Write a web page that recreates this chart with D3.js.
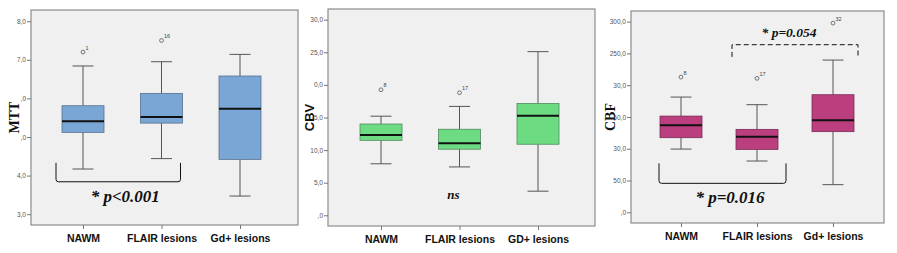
<!DOCTYPE html>
<html><head><meta charset="utf-8">
<script src="https://cdn.jsdelivr.net/npm/d3@7"></script>
<style>body{margin:0;background:#fff}svg{display:block}</style>
</head><body>
<script>
// ---- data ----
const mttCategories = ["NAWM", "FLAIR lesions", "Gd+ lesions"];
const cbvCategories = ["NAWM", "FLAIR lesions", "GD+ lesions"];
const cbfCategories = ["NAWM", "FLAIR lesions", "Gd+ lesions"];
// [low whisker, Q1, median, Q3, high whisker]
const mttStats = [[4.17, 5.12, 5.41, 5.81, 6.84], [4.44, 5.36, 5.52, 6.13, 6.95], [3.47, 4.42, 5.73, 6.58, 7.14]];
const cbvStats = [[7.9, 11.5, 12.3, 14.0, 15.2], [7.42, 10.14, 11.06, 13.2, 16.7], [3.7, 10.9, 15.25, 17.14, 25.1]];
const cbfStats = [[99.5, 117.4, 136.8, 151.4, 181.3], [80.7, 99, 119, 130.5, 169.3], [43.5, 126.9, 144.7, 185, 239.5]];
const mttOutliers = [{c: 0, v: 7.20, id: "1"}, {c: 1, v: 7.50, id: "16"}];
const cbvOutliers = [{c: 0, v: 19.25, id: "8"}, {c: 1, v: 18.8, id: "17"}];
const cbfOutliers = [{c: 0, v: 212.7, id: "8"}, {c: 1, v: 210.7, id: "17"}, {c: 2, v: 297.6, id: "32"}];
const mttTicks = [3, 4, 5, 6, 7, 8];
const mttTickLabels = ["3,0", "4,0", ",0", ",0", "7,0", "8,0"];
const cbvTicks = [0, 5, 10, 15, 20, 25, 30];
const cbvTickLabels = [",0", "5,0", "10,0", "5,0", "0,0", "25,0", "30,0"];
const cbfTicks = [0, 50, 100, 150, 200, 250, 300];
const cbfTickLabels = [",0", "50,0", "30,0", "50,0", "30,0", "250,0", "300,0"];

const W = 897, H = 253;
const svg = d3.select("body").append("svg").attr("width", W).attr("height", H);

const panels = [
  {title: "MTT", titleFont: "Liberation Serif, Times New Roman, serif", titleSize: 14, titleX: 14,
   cats: mttCategories, stats: mttStats, outs: mttOutliers, ticks: mttTicks, tickLabels: mttTickLabels,
   fill: "#7aa6d5", stroke: "#56708c",
   frame: {x0: 31, x1: 298, y0: 10, y1: 225}, xr: [83, 240], domain: [2.72, 8.29]},
  {title: "CBV", titleFont: "Liberation Sans, Arial, sans-serif", titleSize: 13, titleX: 309,
   cats: cbvCategories, stats: cbvStats, outs: cbvOutliers, ticks: cbvTicks, tickLabels: cbvTickLabels,
   fill: "#6ddb82", stroke: "#4f8a5c",
   frame: {x0: 328, x1: 595, y0: 9, y1: 226}, xr: [381, 538], domain: [-1.64, 31.64]},
  {title: "CBF", titleFont: "Liberation Serif, Times New Roman, serif", titleSize: 14, titleX: 610,
   cats: cbfCategories, stats: cbfStats, outs: cbfOutliers, ticks: cbfTicks, tickLabels: cbfTickLabels,
   fill: "#bb3f7e", stroke: "#7a2a55",
   frame: {x0: 631, x1: 884, y0: 11, y1: 223}, xr: [681, 833], domain: [-16.8, 316.7]}
];

const boxW = 42, capW = 21;

panels.forEach((p, pi) => {
  const g = svg.append("g");
  const f = p.frame;
  const y = d3.scaleLinear().domain(p.domain).range([f.y1, f.y0]);
  const x = d3.scalePoint().domain(p.cats).range(p.xr);
  p.x = x; p.y = y;

  g.append("rect").attr("x", f.x0).attr("y", f.y0).attr("width", f.x1 - f.x0).attr("height", f.y1 - f.y0)
    .attr("fill", "#f0f0f0").attr("stroke", "#8c8c8c").attr("stroke-width", 1.2);

  // y axis
  const ax = d3.axisLeft(y).tickValues(p.ticks).tickSize(4).tickPadding(1)
    .tickFormat((d, i) => p.tickLabels[i]);
  const axg = g.append("g").attr("transform", `translate(${f.x0},0)`).call(ax);
  axg.select(".domain").remove();
  axg.selectAll("line").attr("stroke", "#777");
  axg.selectAll("text").attr("font-family", "Liberation Sans, Arial, sans-serif").attr("font-size", 6.5).attr("fill", "#555");

  // x axis ticks
  const xax = d3.axisBottom(x).tickSize(4).tickPadding(6);
  const xg = g.append("g").attr("transform", `translate(0,${f.y1})`).call(xax);
  xg.select(".domain").remove();
  xg.selectAll("line").attr("stroke", "#777");
  xg.selectAll("text").attr("font-family", "Liberation Sans, Arial, sans-serif").attr("font-size", 10.5)
    .attr("font-weight", "bold").attr("fill", "#111");

  // y title
  g.append("text").attr("transform", `translate(${p.titleX},${(f.y0 + f.y1) / 2}) rotate(-90)`)
    .attr("text-anchor", "middle").attr("dominant-baseline", "central")
    .attr("font-family", p.titleFont).attr("font-size", p.titleSize).attr("font-weight", "bold").attr("fill", "#111")
    .text(p.title);

  // boxes
  p.stats.forEach((s, i) => {
    const cx = x(p.cats[i]);
    const bg = g.append("g");
    bg.append("line").attr("x1", cx).attr("x2", cx).attr("y1", y(s[0])).attr("y2", y(s[1])).attr("stroke", "#555").attr("stroke-width", 1);
    bg.append("line").attr("x1", cx).attr("x2", cx).attr("y1", y(s[3])).attr("y2", y(s[4])).attr("stroke", "#555").attr("stroke-width", 1);
    bg.append("line").attr("x1", cx - capW / 2).attr("x2", cx + capW / 2).attr("y1", y(s[0])).attr("y2", y(s[0])).attr("stroke", "#555").attr("stroke-width", 1);
    bg.append("line").attr("x1", cx - capW / 2).attr("x2", cx + capW / 2).attr("y1", y(s[4])).attr("y2", y(s[4])).attr("stroke", "#555").attr("stroke-width", 1);
    bg.append("rect").attr("x", cx - boxW / 2).attr("y", y(s[3])).attr("width", boxW).attr("height", y(s[1]) - y(s[3]))
      .attr("fill", p.fill).attr("stroke", p.stroke).attr("stroke-width", 0.8);
    bg.append("line").attr("x1", cx - boxW / 2).attr("x2", cx + boxW / 2).attr("y1", y(s[2])).attr("y2", y(s[2])).attr("stroke", "#111").attr("stroke-width", 2);
  });

  // outliers
  p.outs.forEach(o => {
    const cx = x(p.cats[o.c]);
    g.append("circle").attr("cx", cx).attr("cy", y(o.v)).attr("r", 1.9).attr("fill", "none").attr("stroke", "#555").attr("stroke-width", 0.8);
    g.append("text").attr("x", cx + 2.5).attr("y", y(o.v) - 2.5).attr("font-family", "Liberation Sans, Arial, sans-serif")
      .attr("font-size", 5.5).attr("fill", "#444").text(o.id);
  });
});

// ---- annotations ----
const annFont = "Liberation Serif, Times New Roman, serif";
function bracketUp(g, xl, xr, yt, yb, dash) {
  const r = 2.5;
  const path = `M${xl},${yt} L${xl},${yb - r} Q${xl},${yb} ${xl + r},${yb} L${xr - r},${yb} Q${xr},${yb} ${xr},${yb - r} L${xr},${yt}`;
  g.append("path").attr("d", path).attr("fill", "none").attr("stroke", "#111").attr("stroke-width", 1)
    .attr("stroke-dasharray", dash || null);
}
function bracketDown(g, xl, xr, yt, yb, dash) {
  const path = `M${xl},${yb} L${xl},${yt} L${xr},${yt} L${xr},${yb}`;
  g.append("path").attr("d", path).attr("fill", "none").attr("stroke", "#111").attr("stroke-width", 1)
    .attr("stroke-dasharray", dash || null);
}
function label(g, cx, cy, txt, size) {
  g.append("text").attr("x", cx).attr("y", cy).attr("text-anchor", "middle").attr("dominant-baseline", "central")
    .attr("font-family", annFont).attr("font-size", size).attr("font-weight", "bold").attr("font-style", "italic")
    .attr("fill", "#111").text(txt);
}
const ann = svg.append("g");
{
  const p = panels[0], x = p.x, y = p.y;
  bracketUp(ann, x(p.cats[0]) - 27, x(p.cats[1]) + 19, y(4.33), y(3.84));
  label(ann, (x(p.cats[0]) + x(p.cats[1])) / 2 + 3, y(3.45), "* p<0.001", 17);
}
{
  const p = panels[1], x = p.x, y = p.y;
  label(ann, x(p.cats[1]) - 6, y(3.2), "ns", 13);
}
{
  const p = panels[2], x = p.x, y = p.y;
  bracketUp(ann, x(p.cats[0]) - 22, x(p.cats[1]) + 29, y(77), y(45.6));
  label(ann, (x(p.cats[0]) + x(p.cats[1])) / 2 + 11, y(23.5), "* p=0.016", 17);
  bracketDown(ann, x(p.cats[1]) - 25, x(p.cats[2]) + 25, y(263.7), y(244.5), "5,3");
  label(ann, (x(p.cats[1]) + x(p.cats[2])) / 2 - 6, y(282.5), "* p=0.054", 13.5);
}
</script>
</body></html>
